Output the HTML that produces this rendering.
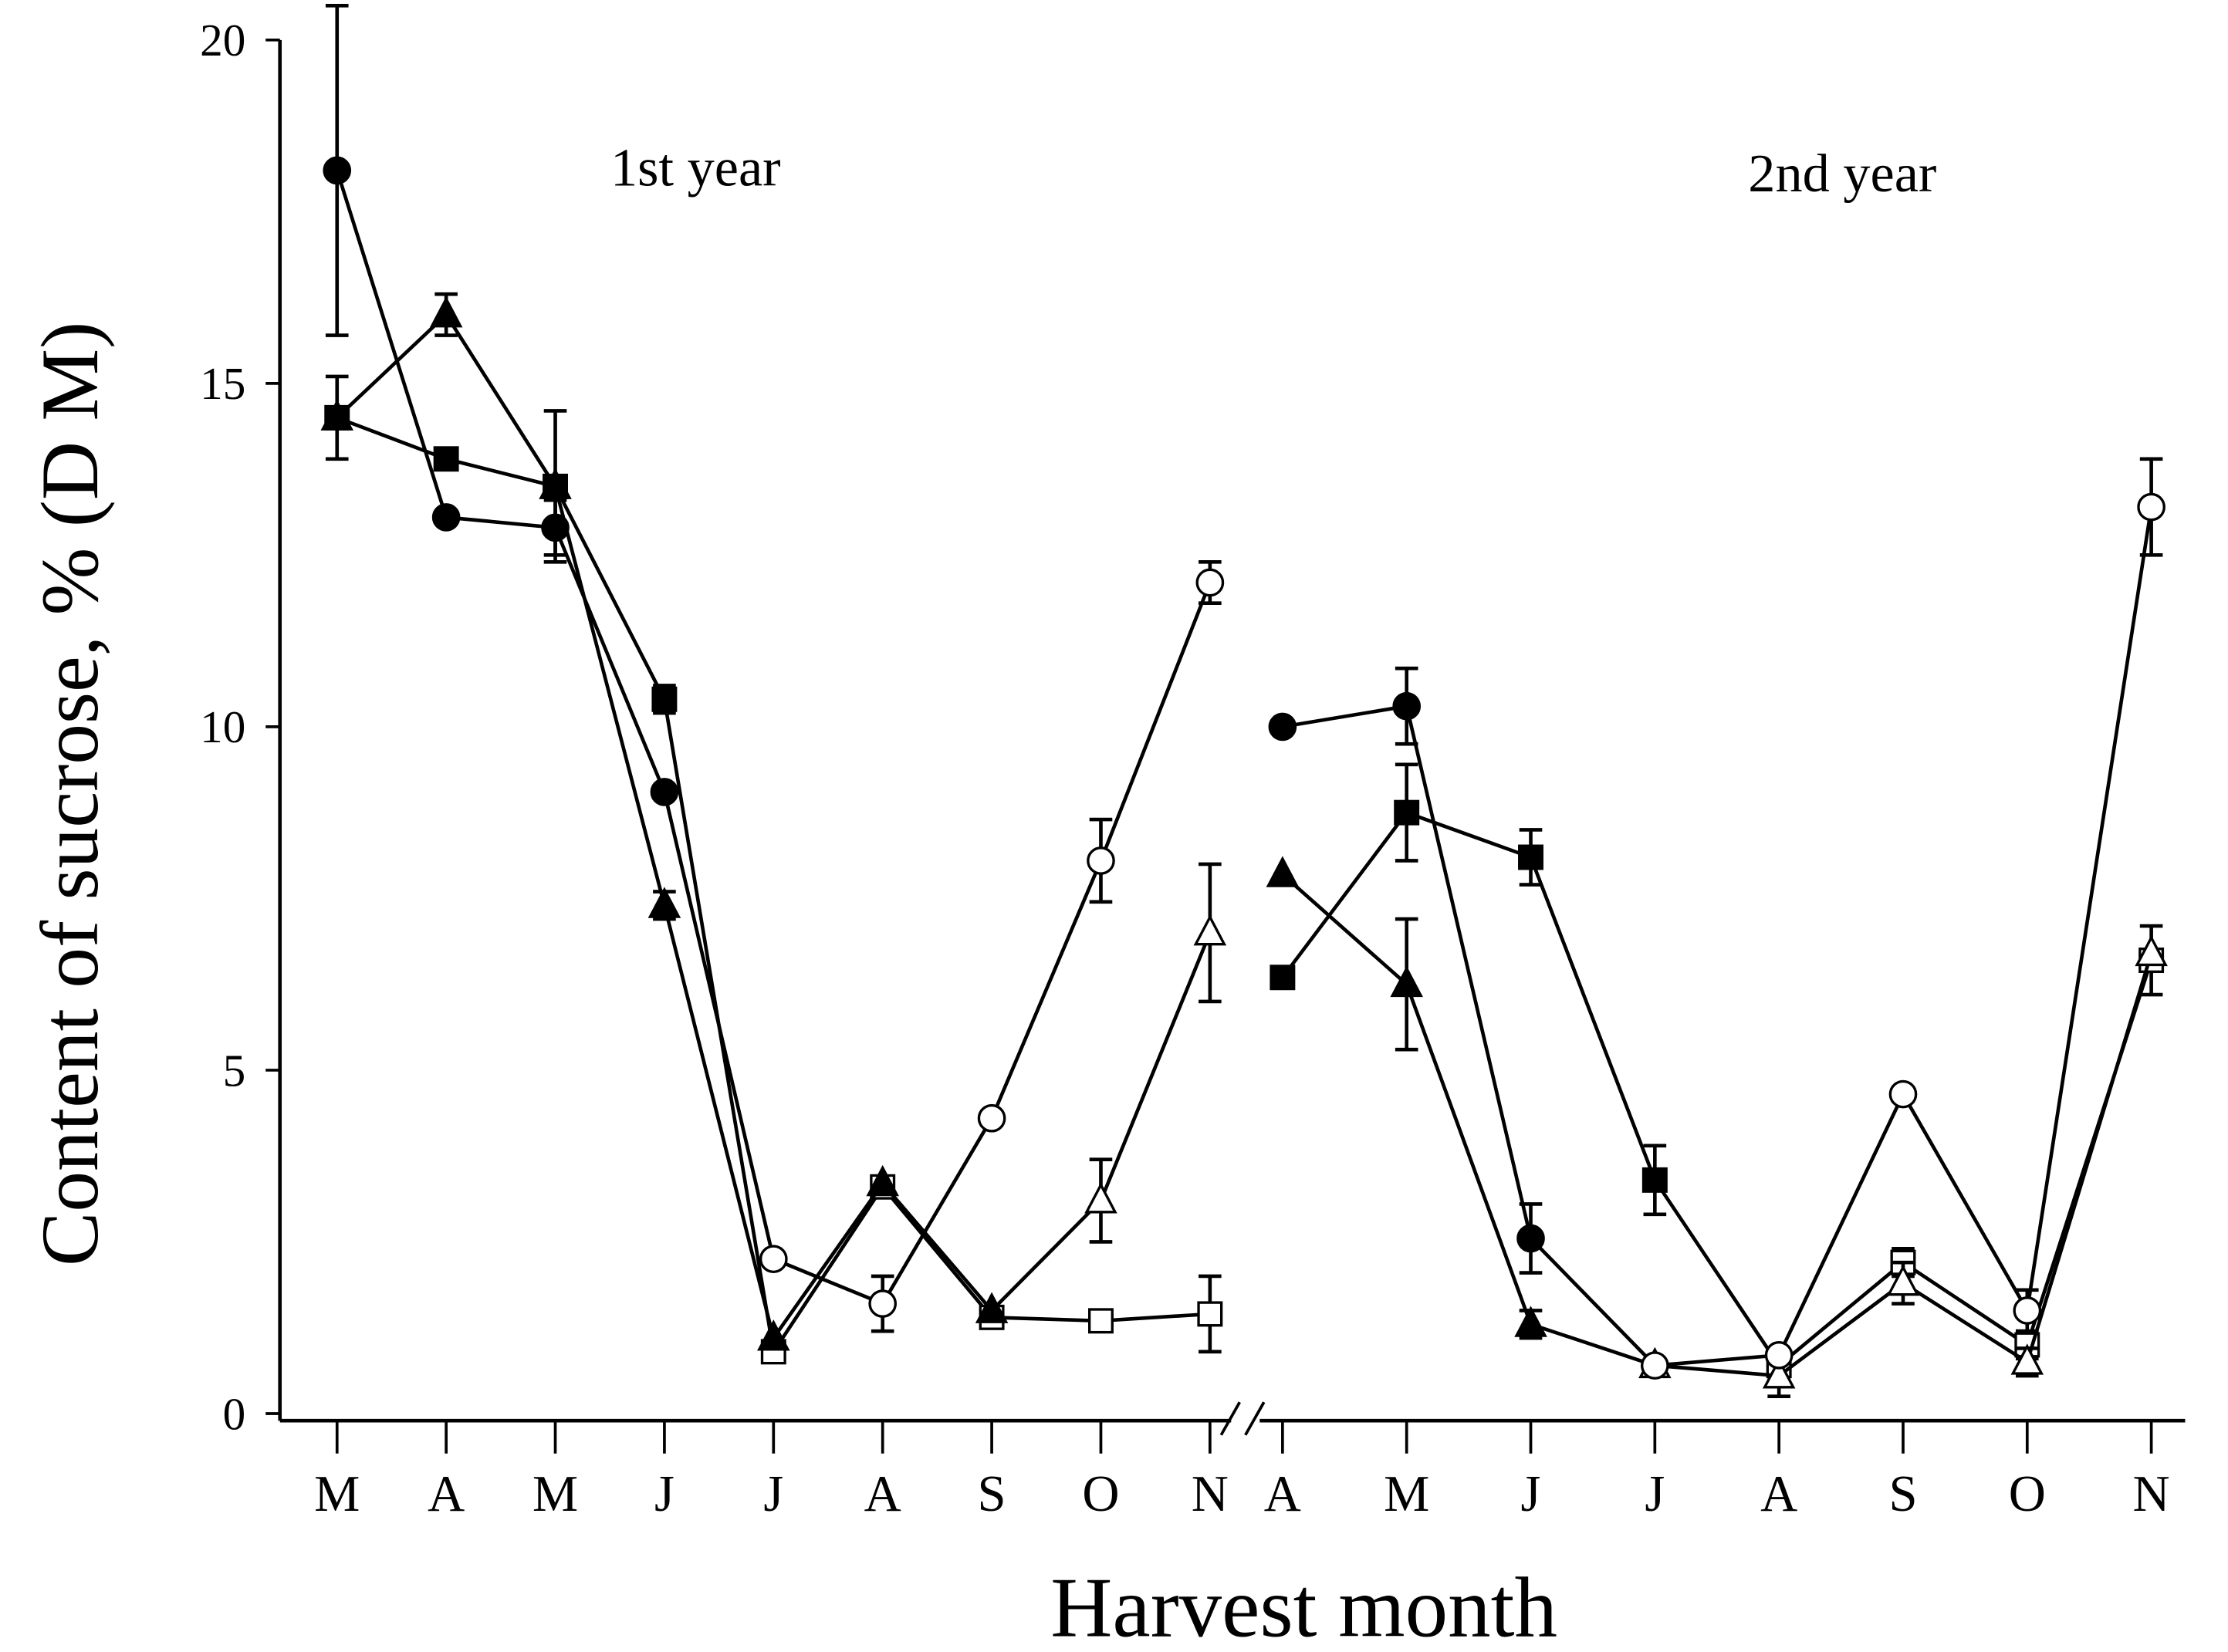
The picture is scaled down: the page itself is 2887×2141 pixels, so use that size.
<!DOCTYPE html>
<html><head><meta charset="utf-8"><style>
html,body{margin:0;padding:0;background:#fff}
svg{display:block}
text{font-family:"Liberation Serif",serif;fill:#000}
</style></head><body>
<svg id="chart" width="2887" height="2141" viewBox="0 0 1560 1157" preserveAspectRatio="none" xmlns="http://www.w3.org/2000/svg">
<g id="axes"></g>
<g id="series"></g>
<text x="487" y="130" font-size="38" text-anchor="middle">1st year</text>
<text x="1290" y="134" font-size="38" text-anchor="middle">2nd year</text>
<text transform="translate(68,556) rotate(-90)" font-size="57" text-anchor="middle">Content of sucrose, % (D M)</text>
<text x="913" y="1146" font-size="60" text-anchor="middle">Harvest month</text>
</svg>
<script>
const months1 = ["M","A","M","J","J","A","S","O","N"];
const months2 = ["A","M","J","J","A","S","O","N"];
const yTicks = [0,5,10,15,20];
const circ1 = [18.1,13.05,12.9,9.05,2.25,1.6,4.3,8.05,12.1];
const circ2 = [10.0,10.3,2.55,0.7,0.85,4.65,1.5,13.2];
const circErr1 = [2.4,0,0.4,0,0.1,0.4,0.1,0.6,0.3];
const circErr2 = [0,0.55,0.5,0,0,0.1,0.3,0.7];
const circOpen1 = [0,0,0,0,1,1,1,1,1];
const circOpen2 = [0,0,0,1,1,1,1,1];
const sq1 = [14.5,13.9,13.5,10.4,0.9,3.3,1.4,1.35,1.45];
const sq2 = [6.35,8.75,8.1,3.4,0.7,2.2,1.0,6.6];
const sqErr1 = [0.6,0,1.1,0.2,0.1,0.1,0.1,0.15,0.55];
const sqErr2 = [0,0.7,0.4,0.5,0.2,0.2,0.2,0.5];
const sqOpen1 = [0,0,0,0,1,1,1,1,1];
const sqOpen2 = [0,0,0,0,1,1,1,1];
const tri1 = [14.5,16.0,13.5,7.4,1.1,3.35,1.5,3.1,7.0];
const tri2 = [7.85,6.25,1.3,0.7,0.55,1.9,0.75,6.7];
const triErr1 = [0,0.3,0,0.2,0,0,0,0.6,1.0];
const triErr2 = [0,0.95,0.2,0,0.3,0.3,0.2,0];
const triOpen1 = [0,0,0,0,0,0,0,1,1];
const triOpen2 = [0,0,0,1,1,1,1,1];

const NS="http://www.w3.org/2000/svg";
const y = v => 990 - v*48.1;
const x1 = i => 236 + i*76.4;
const x2 = i => 898 + i*86.9;
function mk(tag, attrs, parent){const e=document.createElementNS(NS,tag);for(const k in attrs)e.setAttribute(k,attrs[k]);parent.appendChild(e);return e;}
const ax=document.getElementById('axes');
let e;
e=mk('line',{x1:196,y1:28,x2:196,y2:995,stroke:'#000','stroke-width':2.5},ax);


e=mk('line',{x1:196,y1:995,x2:862,y2:995,stroke:'#000','stroke-width':2.5},ax);


e=mk('line',{x1:882,y1:995,x2:1530,y2:995,stroke:'#000','stroke-width':2.5},ax);


e=mk('path',{d:'M855,1005 L868,982 M872,1005 L885,982',stroke:'#000','stroke-width':2,fill:'none'},ax);


yTicks.forEach(v=>{
  e=mk('line',{x1:186,y1:y(v),x2:196,y2:y(v),stroke:'#000','stroke-width':2},ax);
  
  
  e=mk('text',{x:172,y:y(v)+11,'font-size':32,'text-anchor':'end'},ax);e.textContent=v;
  
  
});
function xt(labels,fx){labels.forEach((m,i)=>{
  e=mk('line',{x1:fx(i),y1:995,x2:fx(i),y2:1018,stroke:'#000','stroke-width':2},ax);
  
  
  e=mk('text',{x:fx(i),y:1058,'font-size':36,'text-anchor':'middle'},ax);e.textContent=m;
  
  
});}
xt(months1,x1);xt(months2,x2);
const sg=document.getElementById('series');
function marker(shape,cx,cy,open,g){
  const f=open?'#fff':'#000';
  if(shape==='c') e=mk('circle',{cx,cy,r:9,fill:f,stroke:'#000','stroke-width':1.8},g);
  else if(shape==='s') e=mk('rect',{x:cx-8,y:cy-8,width:16,height:16,fill:f,stroke:'#000','stroke-width':1.8},g);
  else e=mk('polygon',{points:`${cx},${cy-11} ${cx+10},${cy+8} ${cx-10},${cy+8}`,fill:f,stroke:'#000','stroke-width':1.8},g);
  
  
}
function draw(name,shape,vals,errs,opens,fx){
  const g=mk('g',{},sg);
  
  
  e=mk('polyline',{points:vals.map((v,i)=>fx(i)+','+y(v)).join(' '),fill:'none',stroke:'#000','stroke-width':2.5},g);
  
  
  vals.forEach((v,i)=>{const er=errs[i];if(er>0){const cx=fx(i);
    e=mk('path',{d:`M${cx},${y(v+er)} L${cx},${y(v-er)} M${cx-8},${y(v+er)} L${cx+8},${y(v+er)} M${cx-8},${y(v-er)} L${cx+8},${y(v-er)}`,stroke:'#000','stroke-width':2.5,fill:'none'},g);
    
    }});
  vals.forEach((v,i)=>marker(shape,fx(i),y(v),opens[i],g));
}
draw('square-year1','s',sq1,sqErr1,sqOpen1,x1);
draw('square-year2','s',sq2,sqErr2,sqOpen2,x2);
draw('triangle-year1','t',tri1,triErr1,triOpen1,x1);
draw('triangle-year2','t',tri2,triErr2,triOpen2,x2);
draw('circle-year1','c',circ1,circErr1,circOpen1,x1);
draw('circle-year2','c',circ2,circErr2,circOpen2,x2);
</script>
</body></html>
